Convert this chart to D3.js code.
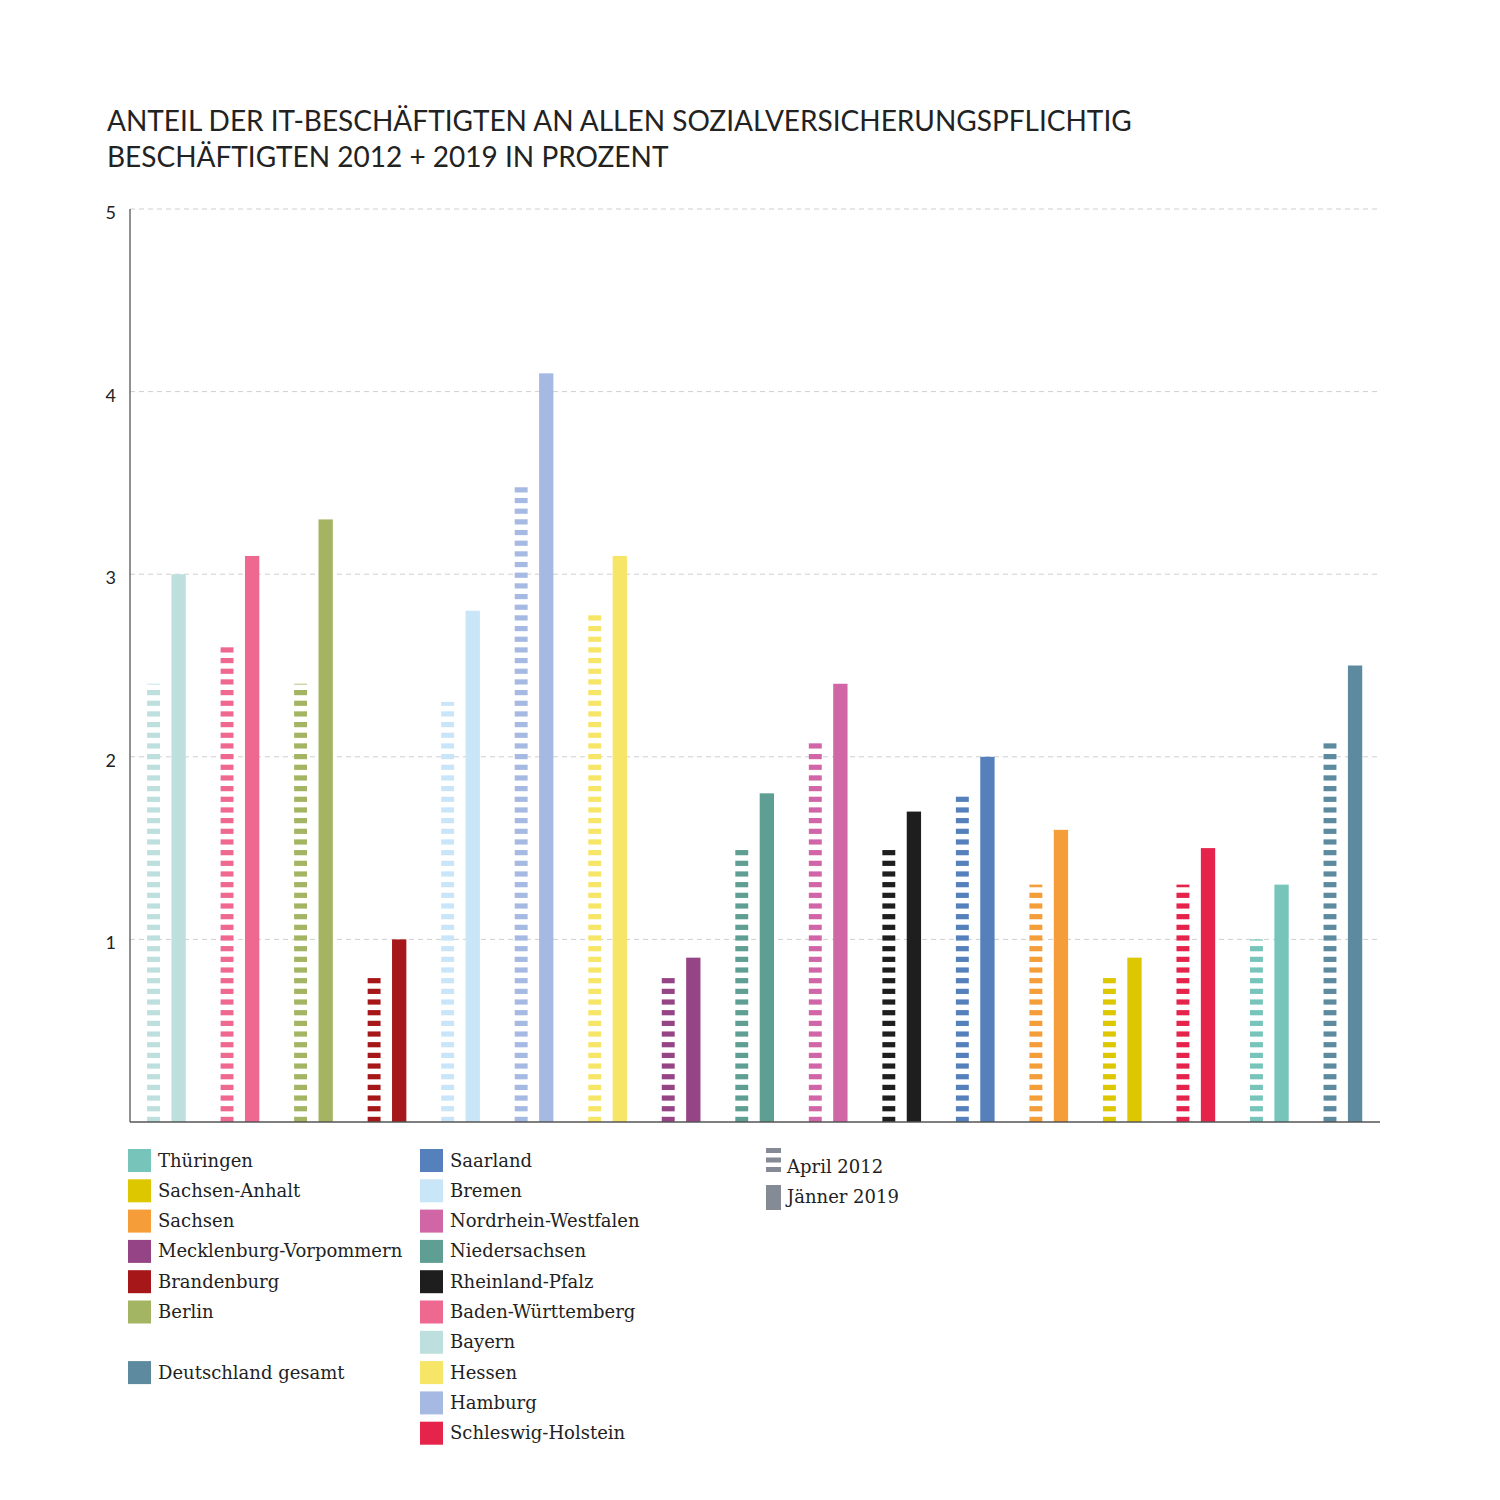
<!DOCTYPE html>
<html><head><meta charset="utf-8">
<script src="https://cdn.jsdelivr.net/npm/d3@7"></script>
<style>body{margin:0;background:#fff}</style>
</head><body>
<svg id="chart" width="1500" height="1500"></svg>
<script>
const titleLines = ["ANTEIL DER IT-BESCHÄFTIGTEN AN ALLEN SOZIALVERSICHERUNGSPFLICHTIG", "BESCHÄFTIGTEN 2012 + 2019 IN PROZENT"];
const categories = ["Bayern","Baden-Württemberg","Berlin","Brandenburg","Bremen","Hamburg","Hessen","Mecklenburg-Vorpommern","Niedersachsen","Nordrhein-Westfalen","Rheinland-Pfalz","Saarland","Sachsen","Sachsen-Anhalt","Schleswig-Holstein","Thüringen","Deutschland gesamt"];
const values2012 = [2.4,2.6,2.4,0.8,2.3,3.5,2.8,0.8,1.5,2.1,1.5,1.8,1.3,0.8,1.3,1.0,2.1];
const values2019 = [3.0,3.1,3.3,1.0,2.8,4.1,3.1,0.9,1.8,2.4,1.7,2.0,1.6,0.9,1.5,1.3,2.5];
const colors = ["#bde0df","#ee6890","#a3b562","#a51719","#c9e6f8","#a5b9e2","#f7e567","#954585","#5f9e93","#d066a6","#1e1e1e","#5580bb","#f59d38","#dcc700","#e6234a","#77c5ba","#5e8aa0"];
const yTicks = [1,2,3,4,5];
const legendCol1 = ["Thüringen","Sachsen-Anhalt","Sachsen","Mecklenburg-Vorpommern","Brandenburg","Berlin","","Deutschland gesamt"];
const legendCol2 = ["Saarland","Bremen","Nordrhein-Westfalen","Niedersachsen","Rheinland-Pfalz","Baden-Württemberg","Bayern","Hessen","Hamburg","Schleswig-Holstein"];
const seriesLabels = ["April 2012","Jänner 2019"];

(function(){
const svg = d3.select("#chart");
const colorOf = d3.scaleOrdinal().domain(categories).range(colors);

// title
svg.append("g").selectAll("text").data(titleLines).join("text")
  .attr("x",107).attr("y",(d,i)=>131+i*36)
  .attr("font-family","Lato, 'Open Sans', sans-serif").attr("font-size",28)
  .attr("fill","#222").text(d=>d);

const pl=130, pr=1380, pt=209, pb=1122;
const x = d3.scaleBand().domain(categories).range([pl,pr]).padding(0);
const xs = d3.scaleBand().domain(["2012","2019"]).range([-20,19]).paddingInner(0.42);
const y = d3.scaleLinear().domain([0,5]).range([pb,pt]);

// grid
svg.append("g").selectAll("line").data(yTicks).join("line")
  .attr("x1",pl).attr("x2",pr).attr("y1",d=>y(d)).attr("y2",d=>y(d))
  .attr("stroke","#cfcfcf").attr("stroke-width",1).attr("stroke-dasharray","5,4");

// y labels
svg.append("g").selectAll("text").data(yTicks).join("text")
  .attr("x",116).attr("y",d=>y(d)+10).attr("text-anchor","end")
  .attr("font-family","Lato, sans-serif").attr("font-size",18).attr("fill","#222")
  .text(d=>d);

// bars
const period = 10.67, dashH = 5.2;
categories.forEach((c,i)=>{
  const cx = x(c)+x.bandwidth()/2;
  const x0 = cx + xs("2012") + 0.3, w0 = xs.bandwidth()-1.4;
  const topY = y(values2012[i]);
  const dashes = [];
  for(let yb=pb; yb>topY; yb-=period){
    const yt = Math.max(yb-dashH, topY);
    dashes.push({y:yt, h:yb-yt});
  }
  svg.append("g").selectAll("rect").data(dashes).join("rect")
    .attr("x",x0).attr("width",w0).attr("y",d=>d.y).attr("height",d=>Math.max(d.h,0.8))
    .attr("fill",colorOf(c));
  svg.append("rect").attr("x",cx+xs("2019")).attr("width",xs.bandwidth())
    .attr("y",y(values2019[i])).attr("height",pb-y(values2019[i]))
    .attr("fill",colorOf(c));
});

// axes
svg.append("line").attr("x1",pl).attr("x2",pl).attr("y1",pt).attr("y2",pb).attr("stroke","#555").attr("stroke-width",1.3);
svg.append("line").attr("x1",pl).attr("x2",pr).attr("y1",pb).attr("y2",pb).attr("stroke","#555").attr("stroke-width",1.3);

// legend
const serif = "'DejaVu Serif', 'Liberation Serif', serif";
function legendCol(items, lx, ly){
  const g = svg.append("g");
  items.forEach((name,i)=>{
    if(!name) return;
    const yy = ly + i*30.3;
    g.append("rect").attr("x",lx).attr("y",yy).attr("width",23).attr("height",23).attr("fill",colorOf(name));
    g.append("text").attr("x",lx+30).attr("y",yy+17.5).attr("font-family",serif).attr("font-size",18)
      .attr("fill","#222").text(name);
  });
}
legendCol(legendCol1,128,1149);
legendCol(legendCol2,420,1149);

const lg = svg.append("g");
[0,1,2].forEach(k=>lg.append("rect").attr("x",766).attr("y",1148+k*9.5).attr("width",15).attr("height",5).attr("fill","#858b96"));
lg.append("rect").attr("x",766).attr("y",1185).attr("width",15).attr("height",25).attr("fill","#858b96");
lg.selectAll("text").data(seriesLabels).join("text")
  .attr("x",787).attr("y",(d,i)=>1173+i*30).attr("font-family",serif).attr("font-size",18)
  .attr("fill","#222").text(d=>d);
})();
</script>
</body></html>
